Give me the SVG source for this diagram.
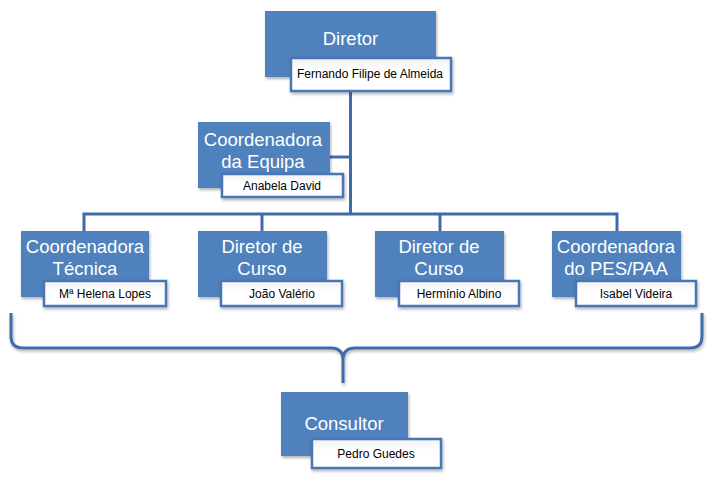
<svg xmlns="http://www.w3.org/2000/svg" width="712" height="480" viewBox="0 0 712 480">
<defs>
<filter id="sh" x="-10%" y="-10%" width="130%" height="140%">
<feDropShadow dx="1" dy="2" stdDeviation="1.5" flood-color="#000" flood-opacity="0.3"/>
</filter>
<linearGradient id="lg" x1="0" y1="0" x2="0" y2="1">
<stop offset="0" stop-color="#f2f2f2"/>
<stop offset="0.4" stop-color="#ffffff"/>
</linearGradient>
</defs>
<style>
.box{fill:#4f81bd;filter:url(#sh)}
.lab{fill:url(#lg);stroke:#4a76b4;stroke-width:2.5;filter:url(#sh)}
.t{font-family:"Liberation Sans",Arial,sans-serif;font-size:18.5px;fill:#ffffff;text-anchor:middle}
.n{font-family:"Liberation Sans",Arial,sans-serif;font-size:12px;fill:#000000;text-anchor:middle}
.ln{fill:none;stroke:#3f6ca9;stroke-width:3}
</style>
<rect width="712" height="480" fill="#ffffff"/>
<g id="connectors">
<path class="ln" d="M350.5 91 V214"/>
<path class="ln" d="M330 157 H350.5"/>
<path class="ln" d="M84 231 V214 H617 V231"/>
<path class="ln" d="M262 214 V231"/>
<path class="ln" d="M440 214 V231"/>
<path class="ln" d="M11 313 V336 Q11 348 23 348 H331 Q343 348 343 360 V383 M343 360 Q343 348 355 348 H690 Q702 348 702 336 V313" filter="url(#sh)"/>
</g>
<g id="diretor">
<rect class="box" x="265" y="11" width="171" height="66"/>
<text class="t" x="350.5" y="45">Diretor</text>
<rect class="lab" x="291" y="58" width="160" height="33"/>
<text class="n" x="370" y="78">Fernando Filipe de Almeida</text>
</g>
<g id="coord-equipa">
<rect class="box" x="198" y="122" width="132" height="66"/>
<text class="t" x="263" y="146">Coordenadora</text>
<text class="t" x="263" y="168">da Equipa</text>
<rect class="lab" x="222" y="174" width="121" height="23"/>
<text class="n" x="282" y="190">Anabela David</text>
</g>
<g id="coord-tecnica">
<rect class="box" x="21" y="231" width="128" height="66"/>
<text class="t" x="85" y="253">Coordenadora</text>
<text class="t" x="85" y="275">Técnica</text>
<rect class="lab" x="44" y="281" width="122" height="25"/>
<text class="n" x="105" y="298">Mª Helena Lopes</text>
</g>
<g id="diretor-curso-1">
<rect class="box" x="198" y="231" width="129" height="66"/>
<text class="t" x="262" y="253">Diretor de</text>
<text class="t" x="262" y="275">Curso</text>
<rect class="lab" x="221" y="281" width="121" height="25"/>
<text class="n" x="282" y="298">João Valério</text>
</g>
<g id="diretor-curso-2">
<rect class="box" x="375" y="231" width="129" height="66"/>
<text class="t" x="439" y="253">Diretor de</text>
<text class="t" x="439" y="275">Curso</text>
<rect class="lab" x="399" y="281" width="120" height="25"/>
<text class="n" x="459" y="298">Hermínio Albino</text>
</g>
<g id="coord-pes">
<rect class="box" x="552" y="231" width="129" height="66"/>
<text class="t" x="616" y="253">Coordenadora</text>
<text class="t" x="616" y="275">do PES/PAA</text>
<rect class="lab" x="576" y="281" width="120" height="25"/>
<text class="n" x="636" y="298">Isabel Videira</text>
</g>
<g id="consultor">
<rect class="box" x="281" y="392" width="127" height="64"/>
<text class="t" x="344" y="430">Consultor</text>
<rect class="lab" x="312" y="439" width="129" height="29"/>
<text class="n" x="376" y="458">Pedro Guedes</text>
</g>
</svg>
